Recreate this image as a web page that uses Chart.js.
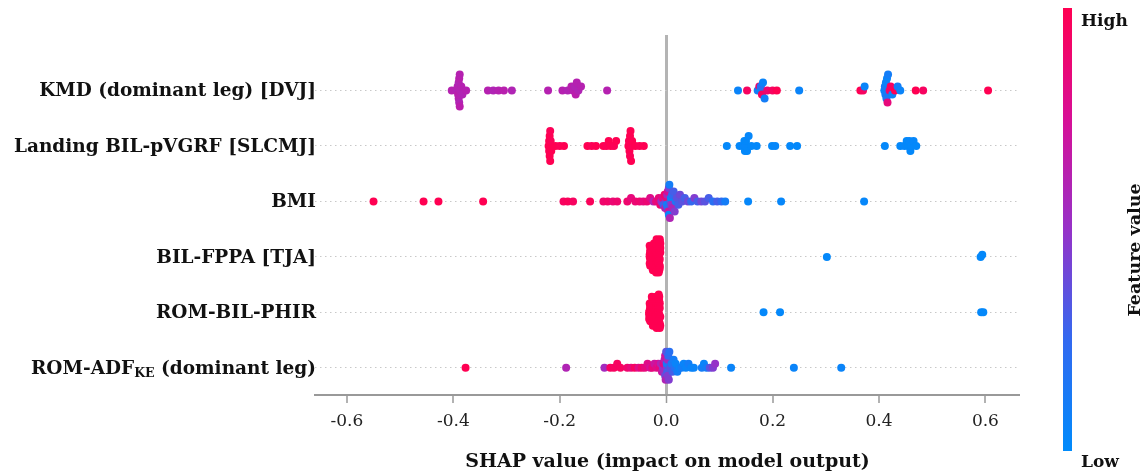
<!DOCTYPE html>
<html>
<head>
<meta charset="utf-8">
<script src="https://cdn.jsdelivr.net/npm/chart.js@4.4.0/dist/chart.umd.min.js"></script>
<style>
  html, body { margin: 0; padding: 0; background: #fff; }
  #wrap { width: 1148px; height: 476px; }
</style>
</head>
<body>
<div id="wrap"><canvas id="shap" width="1148" height="476"></canvas></div>
<script>
// features, top to bottom ( _{..} = subscript )
const features = [
  'KMD (dominant leg) [DVJ]',
  'Landing BIL-pVGRF [SLCMJ]',
  'BMI',
  'BIL-FPPA [TJA]',
  'ROM-BIL-PHIR',
  'ROM-ADF_{KE} (dominant leg)'
];
const xTicks = [-0.6, -0.4, -0.2, 0, 0.2, 0.4, 0.6];
const xTickLabels = ['-0.6', '-0.4', '-0.2', '0.0', '0.2', '0.4', '0.6'];

// SHAP values per feature and the matching feature value (0 = low, 1 = high)
const kmdShap = [
  -0.403, -0.393, -0.392, -0.391, -0.390, -0.390, -0.389, -0.389, -0.388, -0.388, -0.387, -0.385, -0.383, -0.376,
  -0.335, -0.325, -0.315, -0.305, -0.290, -0.222,
  -0.195, -0.185, -0.178, -0.175, -0.172, -0.170, -0.168, -0.165, -0.160, -0.111,
  0.135, 0.152, 0.172, 0.175, 0.177, 0.178, 0.180, 0.182, 0.185, 0.190, 0.200, 0.208, 0.250,
  0.365, 0.370, 0.373, 0.410, 0.411, 0.412, 0.413, 0.414, 0.415, 0.416, 0.417, 0.420, 0.422, 0.425, 0.430, 0.435, 0.440, 0.469, 0.483,
  0.605
];
const kmdVal = [
  0.62, 0.6, 0.62, 0.64, 0.6, 0.62, 0.63, 0.6, 0.62, 0.64, 0.61, 0.62, 0.6, 0.62,
  0.62, 0.6, 0.62, 0.63, 0.6, 0.62,
  0.62, 0.6, 0.63, 0.62, 0.6, 0.64, 0.62, 0.6, 0.62, 0.62,
  0.05, 0.95, 0.1, 0.9, 0.05, 0.2, 0.95, 0.05, 0.1, 0.9, 0.95, 1.0, 0.05,
  1.0, 0.95, 0.05, 0.05, 0.1, 0.1, 0.05, 0.15, 0.05, 0.85, 0.1, 0.9, 0.95, 0.05, 1.0, 0.1, 0.05, 1.0, 0.95,
  1.0
];

const landShap = [
  -0.221, -0.220, -0.220, -0.219, -0.219, -0.218, -0.218, -0.217, -0.217, -0.216,
  -0.208, -0.200, -0.192, -0.148, -0.140, -0.132,
  -0.118, -0.112, -0.108, -0.104, -0.098, -0.094,
  -0.071, -0.070, -0.069, -0.068, -0.068, -0.067, -0.066, -0.065, -0.064,
  -0.058, -0.050, -0.042,
  0.114, 0.138, 0.145, 0.147, 0.148, 0.149, 0.150, 0.152, 0.155, 0.160, 0.170,
  0.199, 0.205, 0.233, 0.246,
  0.411, 0.440, 0.448, 0.452, 0.455, 0.457, 0.459, 0.461, 0.465, 0.470
];
const landVal = [
  1, 1, 0.98, 1, 1, 0.98, 1, 1, 0.98, 1,
  1, 0.98, 1, 1, 0.98, 1,
  1, 0.98, 1, 1, 0.98, 1,
  1, 0.98, 1, 1, 0.98, 1, 1, 0.98, 1,
  1, 0.98, 1,
  0.02, 0.02, 0.03, 0.02, 0.02, 0.03, 0.02, 0.02, 0.03, 0.02, 0.02,
  0.02, 0.03, 0.02, 0.02,
  0.02, 0.02, 0.03, 0.02, 0.02, 0.03, 0.02, 0.02, 0.03, 0.02
];

const bmiShap = [
  -0.550, -0.456, -0.428, -0.344,
  -0.193, -0.185, -0.175, -0.143,
  -0.118, -0.110, -0.100, -0.092,
  -0.073, -0.066, -0.058, -0.050, -0.043, -0.036, -0.030, -0.024, -0.019,
  -0.014, -0.011, -0.009, -0.007, -0.005, -0.003, -0.002, 0.000, 0.001, 0.001, 0.002, 0.003, 0.003, 0.004, 0.005, 0.005,
  0.006, 0.007, 0.008, 0.009, 0.010, 0.011, 0.012, 0.014, 0.016, 0.018, 0.020, 0.023, 0.026,
  0.030, 0.035, 0.041, 0.047, 0.053, 0.059, 0.066, 0.073, 0.080, 0.088, 0.096, 0.104, 0.111,
  0.154, 0.216, 0.372
];
const bmiVal = [
  1, 1, 1, 1,
  0.95, 0.97, 0.95, 0.97,
  0.9, 0.92, 0.88, 0.9,
  0.9, 0.85, 0.88, 0.9, 0.85, 0.88, 0.8, 0.6, 0.85,
  0.85, 0.9, 0.5, 0.8, 0.3, 0.9, 0.6, 0.4, 0.85, 0.1, 0.55, 0.2, 0.75, 0.7, 0.45, 0.05,
  0.1, 0.6, 0.35, 0.05, 0.5, 0.25, 0.6, 0.3, 0.45, 0.15, 0.35, 0.3, 0.4,
  0.35, 0.3, 0.4, 0.25, 0.45, 0.3, 0.4, 0.35, 0.3, 0.2, 0.3, 0.25, 0.1,
  0.03, 0.03, 0.03
];

const fppaShap = [
  -0.031, -0.031, -0.030, -0.030, -0.029, -0.030, -0.031, -0.029, -0.030, -0.031,
  -0.026, -0.025, -0.024, -0.025, -0.026, -0.024, -0.025, -0.023, -0.026, -0.024, -0.025, -0.023, -0.025,
  -0.020, -0.019, -0.018, -0.019, -0.017, -0.020, -0.018, -0.019, -0.017, -0.018, -0.020, -0.019, -0.018, -0.017, -0.019, -0.018,
  -0.014, -0.013, -0.012, -0.011, -0.013, -0.012, -0.014, -0.011, -0.012, -0.013, -0.012, -0.011, -0.013, -0.012, -0.014, -0.012,
  0.302, 0.591, 0.594
];
const fppaVal = [
  1, 1, 1, 1, 1, 1, 1, 1, 1, 1,
  1, 1, 1, 1, 1, 1, 1, 1, 1, 1, 1, 1, 1,
  1, 1, 1, 1, 1, 1, 1, 1, 1, 1, 1, 1, 1, 1, 1, 1,
  1, 1, 1, 1, 1, 1, 1, 1, 1, 1, 1, 1, 1, 1, 1, 1,
  0.02, 0.02, 0.02
];

const phirShap = [
  -0.032, -0.031, -0.032, -0.030, -0.031, -0.030, -0.032, -0.031, -0.030,
  -0.027, -0.026, -0.025, -0.024, -0.026, -0.025, -0.027, -0.024, -0.026, -0.025, -0.024, -0.026, -0.025, -0.027,
  -0.021, -0.020, -0.019, -0.018, -0.020, -0.019, -0.021, -0.018, -0.020, -0.019, -0.021, -0.018, -0.020, -0.019, -0.018,
  -0.015, -0.014, -0.013, -0.012, -0.011, -0.014, -0.013, -0.012, -0.015, -0.013, -0.012, -0.014, -0.011, -0.013, -0.012, -0.014,
  0.183, 0.214, 0.592, 0.596
];
const phirVal = [
  1, 1, 1, 1, 1, 1, 1, 1, 1,
  1, 1, 1, 1, 1, 1, 1, 1, 1, 1, 1, 1, 1, 1,
  1, 1, 1, 1, 1, 1, 1, 1, 1, 1, 1, 1, 1, 1, 1,
  1, 1, 1, 1, 1, 1, 1, 1, 1, 1, 1, 1, 1, 1, 1, 1,
  0.02, 0.02, 0.02, 0.02
];

const adfShap = [
  -0.377, -0.188, -0.116,
  -0.105, -0.098, -0.092, -0.086,
  -0.073, -0.066, -0.059, -0.052, -0.046, -0.040, -0.035, -0.030, -0.026, -0.022,
  -0.018, -0.015, -0.012, -0.010, -0.008, -0.006, -0.005, -0.004, -0.003, -0.002, -0.002, -0.001, 0.000,
  0.001, 0.001, 0.002, 0.003, 0.003, 0.004, 0.005, 0.006, 0.008, 0.010, 0.012, 0.014, 0.016, 0.018, 0.021,
  0.025, 0.029, 0.033, 0.037, 0.042, 0.047, 0.052, 0.067, 0.071, 0.076, 0.082, 0.088, 0.092,
  0.122, 0.240, 0.329
];
const adfVal = [
  1, 0.6, 0.55,
  0.95, 0.95, 0.95, 0.95,
  0.9, 0.85, 0.95, 0.8, 0.9, 0.85, 0.8, 0.75, 0.85, 0.7,
  0.8, 0.75, 0.85, 0.6, 0.7, 0.5, 0.8, 0.55, 0.65, 0.4, 0.7, 0.6, 0.35,
  0.5, 0.15, 0.3, 0.55, 0.45, 0.25, 0.45, 0.2, 0.35, 0.15, 0.3, 0.1, 0.2, 0.05, 0.1,
  0.05, 0.1, 0.05, 0.05, 0.1, 0.05, 0.05, 0.1, 0.05, 0.1, 0.35, 0.45, 0.5,
  0.05, 0.05, 0.05
];

const rows = [
  { shap: kmdShap, val: kmdVal },
  { shap: landShap, val: landVal },
  { shap: bmiShap, val: bmiVal },
  { shap: fppaShap, val: fppaVal },
  { shap: phirShap, val: phirVal },
  { shap: adfShap, val: adfVal }
];

// blue (low) -> purple -> red (high)
const cmapStops = [
  [0.0, [0, 139, 251]],
  [0.25, [50, 105, 240]],
  [0.5, [150, 50, 200]],
  [0.75, [215, 15, 150]],
  [1.0, [255, 0, 82]]
];

function colorFor(v) {
  for (let i = 1; i < cmapStops.length; i++) {
    const [p1, c1] = cmapStops[i];
    const [p0, c0] = cmapStops[i - 1];
    if (v <= p1) {
      const t = (v - p0) / (p1 - p0);
      const c = c0.map((a, k) => Math.round(a + (c1[k] - a) * t));
      return `rgb(${c.join(',')})`;
    }
  }
  return `rgb(${cmapStops[cmapStops.length - 1][1].join(',')})`;
}

// beeswarm stacking the way shap does it: 100 bins, alternate up/down
function swarm(shaps, rowHeight) {
  const lo = Math.min(...shaps), hi = Math.max(...shaps);
  const quant = shaps.map(v => Math.round(100 * (v - lo) / (hi - lo + 1e-8)));
  const order = shaps.map((_, i) => i).sort((a, b) => quant[a] - quant[b] || a - b);
  const ys = new Array(shaps.length).fill(0);
  let layer = 0, last = -1;
  for (const i of order) {
    if (quant[i] !== last) layer = 0;
    ys[i] = Math.ceil(layer / 2) * ((layer % 2) * 2 - 1);
    layer++;
    last = quant[i];
  }
  const m = Math.max(...ys.map(y => y + 1));
  return ys.map(y => y * 0.9 * rowHeight / m);
}

const datasets = rows.map((r, i) => {
  const rowY = features.length - 1 - i;
  const off = swarm(r.shap, 0.4);
  return {
    data: r.shap.map((v, k) => ({ x: v, y: rowY + off[k] })),
    pointBackgroundColor: r.val.map(colorFor),
    pointBorderWidth: 0,
    pointRadius: 4,
    pointHoverRadius: 4
  };
});

const SERIF = '"DejaVu Serif", "Liberation Serif", serif';

// feature names on the left, with subscript support
const featureLabels = {
  id: 'featureLabels',
  afterDraw(chart) {
    const ctx = chart.ctx;
    const y = chart.scales.y;
    const right = chart.chartArea.left + 1;
    ctx.save();
    ctx.fillStyle = '#111';
    ctx.textBaseline = 'middle';
    features.forEach((name, i) => {
      const py = y.getPixelForValue(features.length - 1 - i) + 1;
      const parts = name.split(/_\{|\}/);
      const fonts = parts.map((_, k) => k % 2 ? `bold 12.5px ${SERIF}` : `bold 18.5px ${SERIF}`);
      let total = 0;
      parts.forEach((p, k) => { ctx.font = fonts[k]; total += ctx.measureText(p).width; });
      let x = right - total;
      ctx.textAlign = 'left';
      parts.forEach((p, k) => {
        ctx.font = fonts[k];
        ctx.fillText(p, x, py + (k % 2 ? 5 : 0));
        x += ctx.measureText(p).width;
      });
    });
    ctx.restore();
  }
};

const colorbar = {
  id: 'colorbar',
  afterDraw(chart) {
    const ctx = chart.ctx;
    const x = 1063, top = 8, w = 9, h = 443;
    const g = ctx.createLinearGradient(0, top + h, 0, top);
    cmapStops.forEach(([p, c]) => g.addColorStop(p, `rgb(${c.join(',')})`));
    ctx.save();
    ctx.fillStyle = g;
    ctx.fillRect(x, top, w, h);
    ctx.fillStyle = '#111';
    ctx.font = `bold 17px ${SERIF}`;
    ctx.textAlign = 'left';
    ctx.textBaseline = 'middle';
    ctx.fillText('High', 1081, 22);
    ctx.fillText('Low', 1081, 463);
    ctx.translate(1135, 250);
    ctx.rotate(-Math.PI / 2);
    ctx.textAlign = 'center';
    ctx.font = `bold 17.5px ${SERIF}`;
    ctx.fillText('Feature value', 0, 0);
    ctx.restore();
  }
};

new Chart(document.getElementById('shap'), {
  type: 'scatter',
  data: { datasets },
  options: {
    responsive: false,
    animation: false,
    events: [],
    layout: { padding: { top: 35, right: 128, left: 0, bottom: 0 } },
    plugins: { legend: { display: false }, tooltip: { enabled: false } },
    scales: {
      x: {
        type: 'linear',
        min: -0.66,
        max: 0.665,
        afterBuildTicks: s => { s.ticks = xTicks.map(v => ({ value: v })); },
        afterFit: s => { s.height = 81; },
        ticks: {
          autoSkip: false,
          maxRotation: 0,
          padding: 8,
          color: '#222',
          font: { family: SERIF, size: 17 },
          callback: (v, i) => xTickLabels[i]
        },
        grid: {
          color: c => (c.tick && c.tick.value === 0 ? '#b4b4b4' : 'rgba(0,0,0,0)'),
          lineWidth: c => (c.tick && c.tick.value === 0 ? 3 : 0),
          tickColor: '#999',
          tickWidth: 1.5,
          tickLength: 8
        },
        border: { color: '#999', width: 2 },
        title: {
          display: true,
          text: 'SHAP value (impact on model output)',
          color: '#111',
          font: { family: SERIF, size: 19, weight: 'bold' },
          padding: { top: 0, bottom: 3 }
        }
      },
      y: {
        type: 'linear',
        min: -0.49,
        max: 6.0,
        afterBuildTicks: s => { s.ticks = features.map((_, i) => ({ value: i })); },
        afterFit: s => { s.width = 315; },
        ticks: { display: false },
        grid: { color: '#c8c8c8', lineWidth: 1, drawTicks: false },
        border: { display: false, dash: [1.5, 3.5] }
      }
    }
  },
  plugins: [featureLabels, colorbar]
});
</script>
</body>
</html>
